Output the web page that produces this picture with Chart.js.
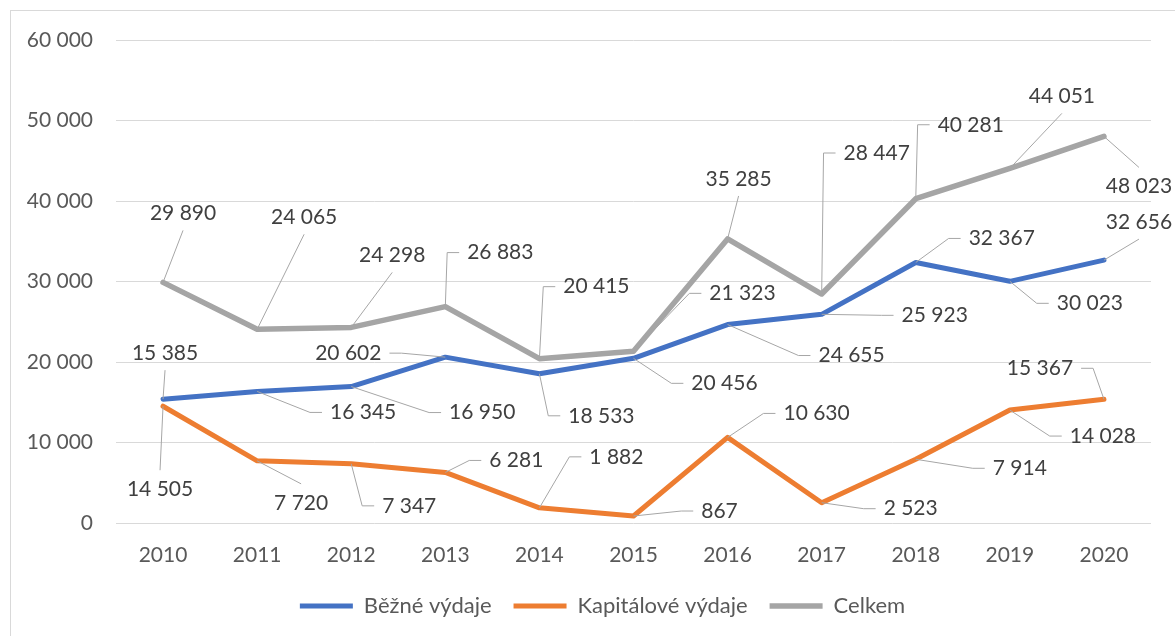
<!DOCTYPE html>
<html>
<head>
<meta charset="utf-8">
<script src="https://cdn.jsdelivr.net/npm/chart.js@4/dist/chart.umd.min.js"></script>
<style>
  body { margin: 0; background: #fff; }
</style>
</head>
<body>
<canvas id="graf" width="1175" height="636"></canvas>
<script>
var roky = ['2010', '2011', '2012', '2013', '2014', '2015', '2016', '2017', '2018', '2019', '2020'];
var bezne = [15385, 16345, 16950, 20602, 18533, 20456, 24655, 25923, 32367, 30023, 32656];
var kapitalove = [14505, 7720, 7347, 6281, 1882, 867, 10630, 2523, 7914, 14028, 15367];
var celkem = [29890, 24065, 24298, 26883, 20415, 21323, 35285, 28447, 40281, 44051, 48023];

// umisteni popisku (posun od bodu v px, strana pro odkazovou caru)
var polohaBezne = [[2,-46,'b'],[106,21,'l'],[131,26,'l'],[-97,-4,'r'],[62,42,'l'],[91,25,'l'],[124,31,'l'],[113,1,'l'],[86,-24,'l'],[80,22,'l'],[35,-38,'b']];
var polohaKapital = [[-3,83,'t'],[44,42,'t'],[58,42,'l'],[71,-12,'l'],[77,-51,'l'],[86,-5,'l'],[89,-24,'l'],[89,6,'l'],[104,9,'l'],[93,26,'l'],[-64,-31,'r']];
var polohaCelkem = [[20,-69,'b'],[47,-112,'b'],[41,-72,'b'],[55,-54,'l'],[57,-72,'l'],[109,-58,'l'],[11,-60,'b'],[55,-141,'l'],[55,-74,'l'],[52,-72,'b'],[35,50,'t']];

var pismo = 'Lato';

function cislo(n) {
    return String(n).replace(/\B(?=(\d{3})+(?!\d))/g, ' ');
}

var ramecek = {
    id: 'ramecek',
    afterLayout: function(chart) {
        // legenda je v originale trochu posunuta doprava
        chart.legend.left += 17;
        chart.legend.right += 17;
    },
    beforeDraw: function(chart) {
        var ctx = chart.ctx;
        ctx.save();
        ctx.strokeStyle = '#d9d9d9';
        ctx.lineWidth = 1;
        ctx.strokeRect(10.5, 10.5, 1180, 640);
        ctx.restore();
    }
};

var popisky = {
    id: 'popisky',
    afterDatasetsDraw: function(chart) {
        var ctx = chart.ctx;
        ctx.save();
        ctx.font = '21px ' + pismo;
        ctx.textAlign = 'center';
        ctx.textBaseline = 'middle';
        chart.data.datasets.forEach(function(ds, i) {
            var meta = chart.getDatasetMeta(i);
            meta.data.forEach(function(el, j) {
                var p = ds.poloha[j];
                var text = cislo(ds.data[j]);
                var cx = el.x + p[0], cy = el.y + p[1];
                var w = ctx.measureText(text).width;
                ctx.strokeStyle = '#a6a6a6';
                ctx.lineWidth = 1;
                ctx.beginPath();
                ctx.moveTo(el.x, el.y);
                if (p[2] === 'b') {
                    ctx.lineTo(cx, cy + 17);
                } else if (p[2] === 't') {
                    ctx.lineTo(cx, cy - 19);
                } else if (p[2] === 'l') {
                    ctx.lineTo(cx - w / 2 - 20, cy);
                    ctx.lineTo(cx - w / 2 - 8, cy);
                } else {
                    ctx.lineTo(cx + w / 2 + 20, cy);
                    ctx.lineTo(cx + w / 2 + 8, cy);
                }
                ctx.stroke();
                ctx.fillStyle = '#404040';
                ctx.fillText(text, cx, cy);
            });
        });
        ctx.restore();
    }
};

new Chart(document.getElementById('graf'), {
    type: 'line',
    data: {
        labels: roky,
        datasets: [{
            label: 'Běžné výdaje',
            data: bezne,
            poloha: polohaBezne,
            borderColor: '#4472C4',
            backgroundColor: '#4472C4',
            borderWidth: 5,
            order: 2
        }, {
            label: 'Kapitálové výdaje',
            data: kapitalove,
            poloha: polohaKapital,
            borderColor: '#ED7D31',
            backgroundColor: '#ED7D31',
            borderWidth: 5,
            order: 1
        }, {
            label: 'Celkem',
            data: celkem,
            poloha: polohaCelkem,
            borderColor: '#A5A5A5',
            backgroundColor: '#A5A5A5',
            borderWidth: 5.5,
            order: 0
        }]
    },
    options: {
        responsive: false,
        animation: false,
        elements: {
            point: { radius: 0, hoverRadius: 0 },
            line: { tension: 0, borderCapStyle: 'round', borderJoinStyle: 'round' }
        },
        layout: { padding: { left: 20, top: 40, right: 24, bottom: 9 } },
        scales: {
            x: {
                offset: true,
                grid: { display: false },
                border: { display: false },
                ticks: { color: '#595959', font: { family: pismo, size: 21 }, padding: 12 },
                afterFit: function(s) { s.height = 50; }
            },
            y: {
                min: 0,
                max: 60000,
                grid: { color: '#d9d9d9', drawTicks: false },
                border: { display: false },
                ticks: {
                    stepSize: 10000,
                    color: '#595959',
                    font: { family: pismo, size: 21 },
                    padding: 23,
                    callback: function(v) { return cislo(v); }
                },
                afterFit: function(s) { s.width = 96; }
            }
        },
        plugins: {
            tooltip: { enabled: false },
            legend: {
                position: 'bottom',
                labels: {
                    usePointStyle: true,
                    pointStyle: 'line',
                    pointStyleWidth: 53,
                    padding: 22,
                    color: '#595959',
                    font: { family: pismo, size: 22 },
                    sort: function(a, b) { return a.datasetIndex - b.datasetIndex; }
                }
            }
        }
    },
    plugins: [ramecek, popisky]
});
</script>
</body>
</html>
